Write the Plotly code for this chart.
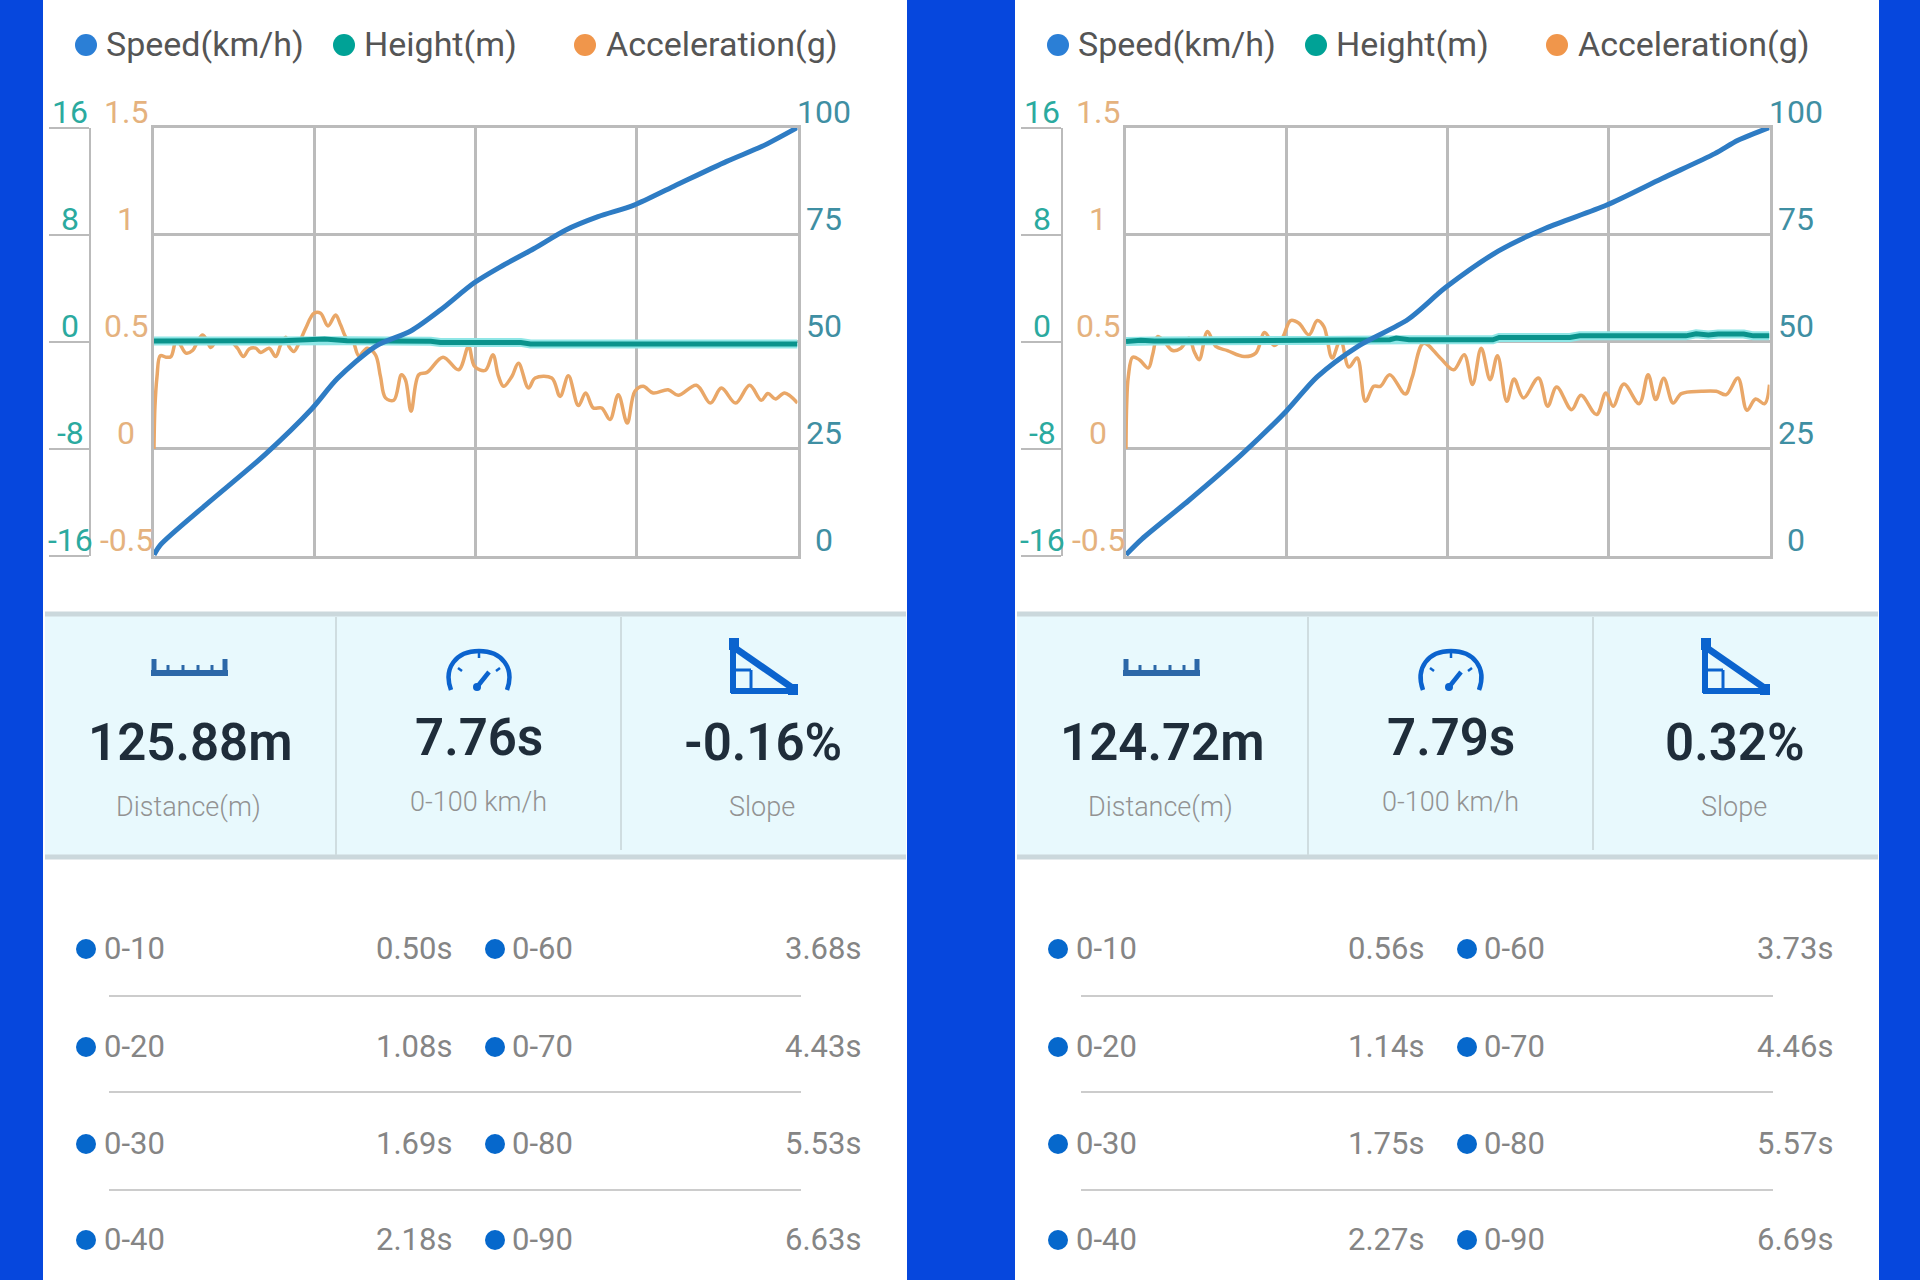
import plotly.graph_objects as go

W, H = 1920, 1280
PANEL_SHIFT = 972  # right panel is the left one moved across

# curve values (x is % of the unlabelled time axis)
left_speed_x = [0, 1, 8.1, 17.2, 24.5, 28.5, 34.5, 39.9, 44.5, 49.7, 53.5, 59, 64, 69, 74.6, 80.8, 89, 94.5, 100]
left_speed = [0.3, 2.6, 12.0, 23.6, 34.3, 41.4, 49.0, 52.5, 57.4, 63.7, 67.2, 71.7, 76.1, 79.2, 81.9, 86.3, 92.1, 95.6, 100]
right_speed_x = [0, 2.5, 9.7, 17.9, 24.9, 29.7, 36.1, 43.8, 49.7, 57.9, 65.2, 74.7, 83.3, 91.5, 95.1, 100]
right_speed = [0.3, 4.0, 12.9, 23.6, 33.8, 41.8, 49.0, 55.2, 62.7, 71.2, 76.5, 81.9, 88.1, 93.9, 97.0, 100]

left_height_x = [0, 20, 26.5, 30, 43, 44.5, 57, 58.5, 100]
left_height = [0.05, 0.08, 0.2, 0.07, 0.03, -0.05, -0.05, -0.16, -0.16]
right_height_x = [0, 2.3, 4.4, 30, 41, 42, 44, 57, 58, 69, 70.5, 87, 88.6, 90.5, 92, 96, 97.5, 100]
right_height = [0.02, 0.12, 0.05, 0.1, 0.15, 0.27, 0.15, 0.15, 0.32, 0.32, 0.44, 0.44, 0.59, 0.5, 0.58, 0.58, 0.44, 0.44]

left_accel_x = [0, 0.15, 0.47, 0.98, 1.86, 2.64, 3.41, 3.93, 4.96, 5.99, 6.77, 7.55, 8.17, 8.84, 9.61, 10.65,
                11.94, 12.97, 13.9, 14.78, 15.81, 16.59, 17.88, 18.91, 19.69, 20.47, 20.98, 21.76, 22.53, 23.57,
                24.86, 25.89, 27.03, 28.22, 28.99, 30.03, 30.8, 31.83, 33.13, 34.42, 35.19, 35.97, 37.26, 38.45,
                39.07, 39.95, 41.14, 42.43, 44.91, 47.34, 48.89, 49.82, 51.48, 52.66, 53.54, 54.32, 55.61, 56.64,
                58.19, 59.23, 61.81, 63.1, 64.4, 65.95, 67.08, 68.27, 69.56, 70.86, 72.15, 73.54, 74.73, 76.02,
                77.57, 79.9, 81.45, 84.29, 86.46, 88.17, 90.39, 92.56, 94.37, 95.4, 96.59, 97.99, 100]
left_accel = [0.0, 0.199, 0.338, 0.435, 0.428, 0.431, 0.501, 0.493, 0.447, 0.459, 0.501, 0.532, 0.509, 0.473, 0.501,
              0.506, 0.501, 0.47, 0.431, 0.466, 0.47, 0.45, 0.47, 0.431, 0.486, 0.521, 0.478, 0.455, 0.493, 0.563,
              0.633, 0.633, 0.574, 0.625, 0.579, 0.512, 0.509, 0.435, 0.47, 0.439, 0.338, 0.238, 0.227, 0.346,
              0.323, 0.176, 0.346, 0.357, 0.428, 0.369, 0.478, 0.385, 0.366, 0.439, 0.338, 0.292, 0.338, 0.4,
              0.284, 0.331, 0.331, 0.245, 0.341, 0.202, 0.261, 0.191, 0.191, 0.137, 0.253, 0.121, 0.269, 0.292,
              0.261, 0.276, 0.25, 0.297, 0.214, 0.284, 0.214, 0.297, 0.227, 0.258, 0.233, 0.261, 0.214]
right_accel_x = [0, 0.1, 0.36, 1.03, 2.07, 3.46, 4.13, 4.91, 5.94, 7.24, 8.53, 9.82, 10.59, 11.37, 12.66, 13.95,
                 15.76, 18.35, 20.16, 21.55, 23.0, 24.29, 25.58, 26.87, 28.42, 29.72, 30.75, 32.04, 33.33, 34.63,
                 35.92, 37.21, 38.5, 39.53, 40.98, 43.41, 44.44, 46.25, 48.84, 50.91, 52.56, 53.85, 55.2, 56.59,
                 57.73, 59.18, 60.31, 61.76, 64.09, 65.53, 66.93, 69.25, 70.7, 73.13, 74.58, 75.71, 77.37, 79.74,
                 81.14, 82.33, 83.57, 85.02, 86.31, 89.41, 91.73, 93.28, 95.09, 96.49, 97.83, 99.23, 100]
right_accel = [0.0, 0.199, 0.338, 0.428, 0.416, 0.377, 0.439, 0.524, 0.501, 0.459, 0.47, 0.517, 0.455, 0.416, 0.548,
               0.478, 0.459, 0.431, 0.447, 0.543, 0.483, 0.517, 0.599, 0.586, 0.532, 0.599, 0.571, 0.424, 0.509,
               0.382, 0.424, 0.222, 0.292, 0.292, 0.346, 0.256, 0.331, 0.493, 0.424, 0.369, 0.439, 0.3, 0.47,
               0.323, 0.435, 0.222, 0.326, 0.238, 0.331, 0.199, 0.289, 0.183, 0.25, 0.16, 0.261, 0.199, 0.303,
               0.211, 0.346, 0.23, 0.33, 0.214, 0.258, 0.269, 0.269, 0.253, 0.331, 0.18, 0.233, 0.211, 0.3]

# axis ticks
speed_ticks = [0, 25, 50, 75, 100]
accel_ticks = [-0.5, 0, 0.5, 1, 1.5]
height_ticks = [-16, -8, 0, 8, 16]
accel_labels = ["-0.5", "0", "0.5", "1", "1.5"]
time_ticks = [0, 25, 50, 75, 100]

# legend + summary + split tables
legend_names = ["Speed(km/h)", "Height(m)", "Acceleration(g)"]
stat_names = ["Distance(m)", "0-100 km/h", "Slope"]
left_stats = ["125.88m", "7.76s", "-0.16%"]
right_stats = ["124.72m", "7.79s", "0.32%"]
split_names_a = ["0-10", "0-20", "0-30", "0-40"]
split_names_b = ["0-60", "0-70", "0-80", "0-90"]
left_times_a = ["0.50s", "1.08s", "1.69s", "2.18s"]
left_times_b = ["3.68s", "4.43s", "5.53s", "6.63s"]
right_times_a = ["0.56s", "1.14s", "1.75s", "2.27s"]
right_times_b = ["3.73s", "4.46s", "5.57s", "6.69s"]

BLUE_BG = "#0647DD"
C_SPEED = "#2E7CC4"
C_HEIGHT = "#0A938C"
C_HEIGHT_GLOW = "#8FE6E6"
C_ACCEL = "#E9A768"
GRID = "#BBBBBB"
ICON = "#0B63CE"
FONT = "Roboto"

shapes = []
annotations = []


def px(x):
    return x / W


def py(y):
    return 1 - y / H


def rect(x0, y0, x1, y1, fill):
    shapes.append(dict(type="rect", xref="paper", yref="paper", x0=px(x0), x1=px(x1), y0=py(y0), y1=py(y1),
                       fillcolor=fill, line_width=0, layer="below"))


def seg(x0, y0, x1, y1, color, width):
    shapes.append(dict(type="line", xref="paper", yref="paper", x0=px(x0), x1=px(x1), y0=py(y0), y1=py(y1),
                       line=dict(color=color, width=width), layer="below"))


def dot(cx, cy, r, fill):
    shapes.append(dict(type="circle", xref="paper", yref="paper", x0=px(cx - r), x1=px(cx + r),
                       y0=py(cy + r), y1=py(cy - r), fillcolor=fill, line_width=0, layer="below"))


def text(x, y, s, size, color, anchor="center", weight=400):
    annotations.append(dict(xref="paper", yref="paper", x=px(x), y=py(y), text=s, showarrow=False,
                            xanchor=anchor, yanchor="middle",
                            font=dict(family=FONT, size=size, color=color, weight=weight)))


def tick_label(x, yref, v, s, color):
    # labels sit above their lines and are centred, which axis labels cannot do
    annotations.append(dict(xref="paper", yref=yref, x=px(x), y=v, yshift=16, text=s, showarrow=False,
                            xanchor="center", yanchor="middle",
                            font=dict(family=FONT, size=32, color=color)))


def icons(dx):
    # ruler
    c = "#2C68A8"
    seg(151 + dx, 673, 228 + dx, 673, c, 6)
    seg(154 + dx, 659, 154 + dx, 676, c, 5)
    seg(225 + dx, 659, 225 + dx, 676, c, 5)
    for x in (168, 183, 198, 212):
        seg(x + dx, 665, x + dx, 673, c, 3)
    # gauge: arc, scale marks, needle
    P = lambda x, y: f"{px(x + dx)},{py(y)}"
    arc = (f"M {P(451, 690)} C {P(443, 668)} {P(456, 651)} {P(479, 651)} "
           f"C {P(502, 651)} {P(515, 668)} {P(507, 690)}")
    shapes.append(dict(type="path", xref="paper", yref="paper", path=arc,
                       line=dict(color=ICON, width=4.5), layer="below"))
    for x0, y0, x1, y1 in [(458, 668, 462, 671), (479, 652, 479, 658), (500, 668, 496, 671)]:
        seg(x0 + dx, y0, x1 + dx, y1, ICON, 2.5)
    seg(477 + dx, 687, 489 + dx, 672, ICON, 4.5)
    dot(477 + dx, 687, 4, ICON)
    # slope triangle
    seg(733 + dx, 640, 733 + dx, 693, ICON, 6)
    seg(731 + dx, 691, 796 + dx, 691, ICON, 6)
    seg(735 + dx, 648, 794 + dx, 689, ICON, 7)
    seg(736 + dx, 670, 751 + dx, 670, ICON, 3)
    seg(751 + dx, 670, 751 + dx, 690, ICON, 3)
    rect(729 + dx, 638, 739 + dx, 650, ICON)
    rect(788 + dx, 684, 798 + dx, 695, ICON)


def panel(dx, stats, times_a, times_b):
    rect(43 + dx, 0, 907 + dx, H, "white")

    # legend row
    for x_dot, x_txt, name, color in zip((86, 344, 585), (104, 362, 604), legend_names,
                                         ("#2B7FD6", "#00A296", "#F0964B")):
        dot(x_dot + dx, 45, 11, color)
        text(x_txt + dx, 44, name, 34, "#555555", "left")

    # summary band
    rect(45 + dx, 614, 906 + dx, 857, "#E8F9FD")
    seg(45 + dx, 614, 906 + dx, 614, "#CBD8DC", 5)
    seg(45 + dx, 857, 906 + dx, 857, "#CBD8DC", 5)
    seg(336 + dx, 617, 336 + dx, 855, "#CFDDE0", 2)
    seg(621 + dx, 617, 621 + dx, 850, "#CFDDE0", 2)
    icons(dx)
    for x, yv, yl, val, name in zip((189.5, 479, 763), (742, 737, 742), (807, 802, 807), stats, stat_names):
        text(x + dx, yv, val, 51, "#1F2D3A", weight=600)
        text(x + dx - 1, yl, name, 27, "#929292", weight=300)

    # split times
    for i, y in enumerate((949, 1047, 1144, 1240)):
        dot(86 + dx, y, 10, "#0668CC")
        dot(495 + dx, y, 10, "#0668CC")
        text(102 + dx, y - 1, split_names_a[i], 31, "#858585", "left")
        text(454 + dx, y - 1, times_a[i], 31, "#858585", "right")
        text(510 + dx, y - 1, split_names_b[i], 31, "#858585", "left")
        text(863 + dx, y - 1, times_b[i], 31, "#858585", "right")
    for y in (996, 1092, 1190):
        seg(109 + dx, y, 801 + dx, y, "#CCCCCC", 2)


fig = go.Figure()

panels = [
    (0, "", left_speed_x, left_speed, left_height_x, left_height, left_accel_x, left_accel,
     left_stats, left_times_a, left_times_b),
    (PANEL_SHIFT, "2", right_speed_x, right_speed, right_height_x, right_height, right_accel_x, right_accel,
     right_stats, right_times_a, right_times_b),
]

layout_axes = {}
for n, (dx, xid, sx, sy, hx, hy, ax, ay, stats, times_a, times_b) in enumerate(panels):
    panel(dx, stats, times_a, times_b)

    y_a = 1 + n * 3  # accel, drawn first and carrying the grid
    y_h = y_a + 1
    y_s = y_a + 2
    x_name = "x" + xid
    fig.add_trace(go.Scatter(x=ax, y=ay, name=legend_names[2], mode="lines", xaxis=x_name, yaxis=f"y{y_a}",
                             line=dict(color=C_ACCEL, width=3.5, shape="spline", smoothing=1)))
    # the height line has a pale cyan edge in the screenshot
    fig.add_trace(go.Scatter(x=hx, y=hy, mode="lines", xaxis=x_name, yaxis=f"y{y_h}", hoverinfo="skip",
                             line=dict(color=C_HEIGHT_GLOW, width=9)))
    fig.add_trace(go.Scatter(x=hx, y=hy, name=legend_names[1], mode="lines", xaxis=x_name, yaxis=f"y{y_h}",
                             line=dict(color=C_HEIGHT, width=5)))
    fig.add_trace(go.Scatter(x=sx, y=sy, name=legend_names[0], mode="lines", xaxis=x_name, yaxis=f"y{y_s}",
                             line=dict(color=C_SPEED, width=5, shape="spline", smoothing=0.8)))

    dom_y = [py(556), py(127.5)]
    layout_axes["xaxis" + xid] = dict(
        domain=[px(154 + dx), px(797.5 + dx)], range=[0, 100], anchor=f"y{y_a}", tickvals=time_ticks,
        showticklabels=False, ticks="", showgrid=True, gridcolor=GRID, gridwidth=2.5, zeroline=False,
        showline=True, linecolor=GRID, linewidth=2.5, mirror=True)
    layout_axes[f"yaxis{y_a}"] = dict(
        domain=dom_y, range=[-0.5, 1.5], anchor=x_name, tickvals=accel_ticks, showticklabels=False, ticks="",
        showgrid=True, gridcolor=GRID, gridwidth=2.5, zeroline=False,
        showline=True, linecolor=GRID, linewidth=2.5, mirror=True)
    layout_axes[f"yaxis{y_h}"] = dict(
        domain=dom_y, range=[-16, 16], overlaying=f"y{y_a}", anchor="free", position=px(89.5 + dx), side="left",
        tickvals=height_ticks, showticklabels=False, ticks="outside", ticklen=40, tickwidth=2, tickcolor=GRID,
        showgrid=False, zeroline=False, showline=True, linecolor=GRID, linewidth=2)
    layout_axes[f"yaxis{y_s}"] = dict(
        domain=dom_y, range=[0, 100], overlaying=f"y{y_a}", anchor=x_name, side="right",
        tickvals=speed_ticks, showticklabels=False, ticks="", showgrid=False, zeroline=False)

    for v in height_ticks:
        tick_label(70 + dx, f"y{y_h}", v, str(v), "#2BAA9F")
    for v, lab in zip(accel_ticks, accel_labels):
        tick_label(126 + dx, f"y{y_a}", v, lab, "#E5B27E")
    for v in speed_ticks:
        tick_label(824 + dx, f"y{y_s}", v, str(v), "#3F8FA3")

fig.update_layout(
    width=W, height=H, margin=dict(l=0, r=0, t=0, b=0), autosize=False,
    paper_bgcolor=BLUE_BG, plot_bgcolor="rgba(0,0,0,0)", showlegend=False,
    shapes=shapes, annotations=annotations, font=dict(family=FONT), **layout_axes,
)

fig.write_html("out.html", config={"displayModeBar": False},
               post_script="document.body.style.margin='0';document.body.style.overflow='hidden';")
